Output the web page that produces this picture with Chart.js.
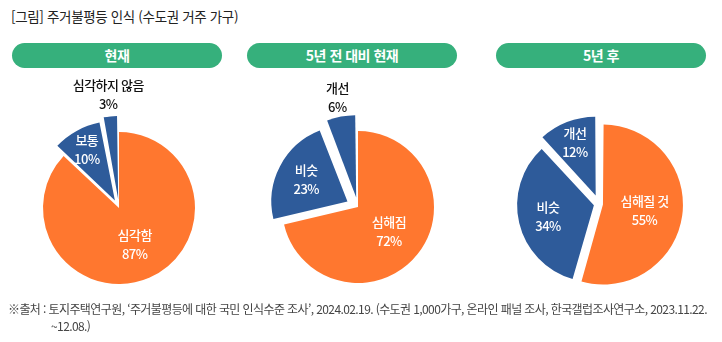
<!DOCTYPE html>
<html lang="ko">
<head>
<meta charset="utf-8">
<script src="https://cdn.jsdelivr.net/npm/chart.js@4.4.1/dist/chart.umd.min.js"></script>
<style>
    body {
        margin: 0;
        width: 722px;
        height: 342px;
        position: relative;
        overflow: hidden;
        background: #fff;
        font-family: "Noto Sans CJK KR", "Noto Sans", sans-serif;
    }
    #title {
        position: absolute;
        left: 11px;
        top: 6px;
        font-size: 13.5px;
        letter-spacing: -0.35px;
        color: #222;
        white-space: nowrap;
    }
    .pill {
        position: absolute;
        top: 43px;
        width: 210px;
        height: 25px;
        line-height: 25px;
        border-radius: 13px;
        background: #36b07c;
        color: #fff;
        font-weight: bold;
        font-size: 14px;
        letter-spacing: -0.5px;
        text-align: center;
    }
    canvas {
        position: absolute;
        top: 70px;
    }
    #source {
        position: absolute;
        left: 8px;
        top: 300px;
        width: 712px;
        font-size: 12px;
        letter-spacing: -0.6px;
        line-height: 17px;
        color: #444;
        white-space: nowrap;
    }
</style>
</head>
<body>
<div id="title">[그림] 주거불평등 인식 (수도권 거주 가구)</div>
<div class="pill" style="left: 12px;" id="pill0"></div>
<div class="pill" style="left: 247px;" id="pill1"></div>
<div class="pill" style="left: 496px;" id="pill2"></div>
<canvas id="chartNow" width="240" height="276" style="left: -1px;"></canvas>
<canvas id="chartChange" width="240" height="274" style="left: 238px;"></canvas>
<canvas id="chartFuture" width="240" height="268" style="left: 479px;"></canvas>
<div id="source">※출처 : 토지주택연구원, ‘주거불평등에 대한 국민 인식수준 조사’, 2024.02.19. (수도권 1,000가구, 온라인 패널 조사, 한국갤럽조사연구소, 2023.11.22.<br><span style="padding-left: 43px;">~12.08.)</span></div>

<script>
const panelTitles = ['현재', '5년 전 대비 현재', '5년 후'];

const labelsNow = ['심각함', '보통', '심각하지 않음'];
const valuesNow = [87, 10, 3];

const labelsChange = ['심해짐', '비슷', '개선'];
const valuesChange = [72, 23, 6];

const labelsFuture = ['심해질 것', '비슷', '개선'];
const valuesFuture = [55, 34, 12];

const ORANGE = '#ff772f';
const BLUE = '#2e5b9a';

panelTitles.forEach((t, i) => {
    document.getElementById('pill' + i).textContent = t;
});

// chart.js v4 moves an arc by offset/4 * (1 + fix), so turn a pixel shift into an offset
function shiftToOffset(shift, values, i) {
    const total = values.reduce((a, b) => a + b, 0);
    const circ = values[i] / total * Math.PI * 2;
    const fix = 1 - Math.sin(Math.min(Math.PI, circ));
    return shift * 4 / (1 + fix);
}

const sliceLabels = {
    id: 'sliceLabels',
    afterDatasetsDraw(chart, args, opts) {
        const ctx = chart.ctx;
        const meta = chart.getDatasetMeta(0);
        const ds = chart.data.datasets[0];
        meta.data.forEach((arc, i) => {
            const mid = (arc.startAngle + arc.endAngle) / 2;
            const r = opts.shift[i] + arc.outerRadius * opts.dist[i];
            const x = arc.x + Math.cos(mid) * r;
            const y = arc.y + Math.sin(mid) * r;
            ctx.save();
            ctx.fillStyle = opts.colors[i];
            ctx.font = '500 13px "Noto Sans CJK KR"';
            ctx.letterSpacing = '-0.5px';
            ctx.textAlign = 'center';
            ctx.textBaseline = 'middle';
            ctx.fillText(chart.data.labels[i], x, y - 9.5);
            ctx.fillText(ds.data[i] + '%', x, y + 9.5);
            ctx.restore();
        });
    }
};

function makePie(id, labels, values, shift, dist, colors) {
    const config = {
        type: 'pie',
        data: {
            labels: labels,
            datasets: [{
                data: values,
                backgroundColor: [ORANGE, BLUE, BLUE],
                borderWidth: 0,
                offset: values.map((v, i) => shiftToOffset(shift[i], values, i)),
            }]
        },
        options: {
            responsive: false,
            animation: false,
            radius: 76,
            layout: { padding: 0 },
            plugins: {
                legend: { display: false },
                tooltip: { enabled: false },
                sliceLabels: { shift: shift, dist: dist, colors: colors }
            }
        },
        plugins: [sliceLabels]
    };
    return new Chart(document.getElementById(id), config);
}

makePie('chartNow', labelsNow, valuesNow, [0, 12, 16], [0.52, 0.72, 1.29], ['#fff', '#fff', '#111']);
makePie('chartChange', labelsChange, valuesChange, [0, 12, 16], [0.52, 0.61, 1.25], ['#fff', '#fff', '#111']);
makePie('chartFuture', labelsFuture, valuesFuture, [8, 6, 12], [0.5, 0.61, 0.71], ['#fff', '#fff', '#fff']);
</script>
</body>
</html>
